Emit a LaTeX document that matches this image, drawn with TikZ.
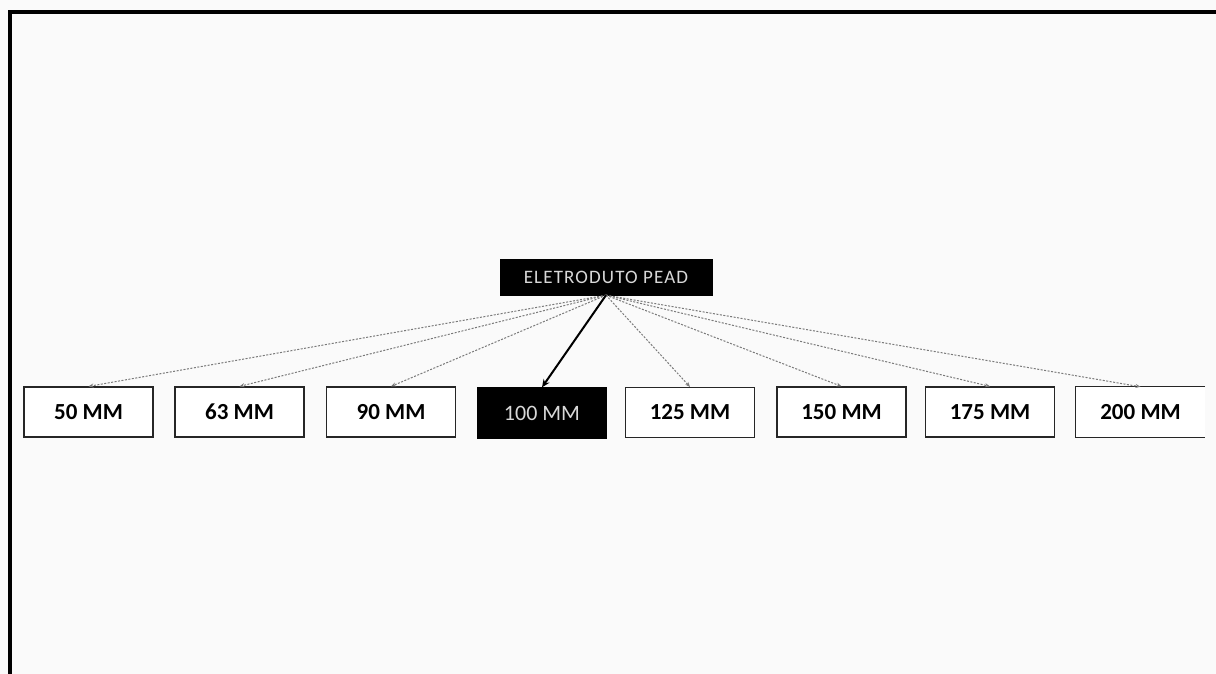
\documentclass[tikz,border=0pt]{standalone}
\usepackage{fontspec}
\setmainfont{Carlito}
\usetikzlibrary{arrows.meta}
\definecolor{bg}{HTML}{FAFAFA}
\definecolor{dotc}{HTML}{7A7A7A}
\definecolor{lighttxt}{HTML}{D8D8D8}
\tikzset{
  sizebox/.style={draw=black!85, line width=1.2pt, fill=white, minimum width=129pt, minimum height=50pt, inner sep=0pt, font=\fontsize{23}{26}\selectfont\bfseries},
  openbox/.style={minimum width=129pt, minimum height=50pt, inner sep=0pt, font=\fontsize{23}{26}\selectfont\bfseries},
  darkbox/.style={fill=black, draw=black, minimum width=129pt, minimum height=51pt, inner sep=0pt, text=lighttxt, font=\fontsize{22}{26}\selectfont},
  topbox/.style={fill=black, draw=black, minimum width=212pt, minimum height=36pt, inner sep=0pt, text=lighttxt, font=\fontsize{19}{22}\selectfont\addfontfeatures{LetterSpace=6}},
  dotarrow/.style={dotc, line width=1pt, dash pattern=on 2pt off 1.5pt, -{Stealth[length=5pt,width=4pt]}},
  mainarrow/.style={black, line width=2pt, -{Stealth[length=8pt,width=7pt]}}
}
\begin{document}
\begin{tikzpicture}[x=1pt,y=-1pt]
\fill[bg] (0,0) rectangle (1216,674);
\useasboundingbox (0,0) rectangle (1216,674);
\draw[line width=4pt, line cap=rect] (10,674) -- (10,12) -- (1216,12);

\node[topbox] (top) at (606,277) {ELETRODUTO PEAD};

\node[sizebox] (b1) at (88.5,412) {50 MM};
\node[sizebox] (b2) at (239.5,412) {63 MM};
\node[sizebox] (b3) at (391,412) {90 MM};
\node[darkbox] (b4) at (542,413) {100 MM};
\node[sizebox] (b5) at (690,412.5) {125 MM};
\node[sizebox] (b6) at (841.5,412) {150 MM};
\node[sizebox] (b7) at (990,412) {175 MM};
\node[openbox] (b8) at (1140.5,412) {200 MM};
\fill[white] (b8.north west) rectangle (b8.south east);
\node[openbox] at (b8) {200 MM};
\draw[black!85, line width=1.2pt] (b8.north east) -- (b8.north west) -- (b8.south west) -- (b8.south east);

\foreach \b in {b1,b2,b3,b5,b6,b7,b8}
  \draw[dotarrow] (top.south) -- (\b.north);
\draw[mainarrow] (top.south) -- (b4.north);
\end{tikzpicture}
\end{document}
